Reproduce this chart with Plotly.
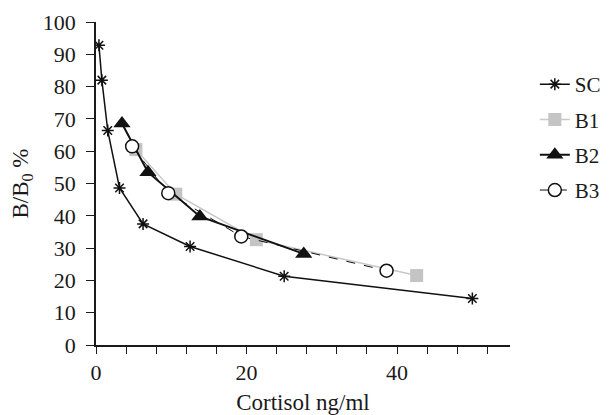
import plotly.graph_objects as go

sc_x = [0.39, 0.78, 1.56, 3.125, 6.25, 12.5, 25, 50]
sc_y = [92.8, 82, 66.4, 48.6, 37.5, 30.5, 21.3, 14.4]
b1_x = [5.3, 10.6, 21.3, 42.6]
b1_y = [60.5, 46.7, 32.6, 21.5]
b2_x = [3.45, 6.9, 13.8, 27.6]
b2_y = [68.6, 53.5, 39.8, 28.2]
b3_x = [4.8, 9.6, 19.3, 38.6]
b3_y = [61.5, 47.0, 33.6, 23.0]

x_tickvals = [0, 20, 40]
y_tickvals = list(range(0, 101, 10))

FONT = "Liberation Serif"

fig = go.Figure()
fig.add_trace(go.Scatter(x=sc_x, y=sc_y, name="SC", mode="lines+markers", legendgroup="sc",
                         line=dict(color="#111111", width=1.5),
                         marker=dict(symbol="asterisk-open", size=10, color="#111111",
                                     line=dict(color="#111111", width=1.5))))
fig.add_trace(go.Scatter(x=b1_x, y=b1_y, name="B1", mode="lines+markers", legendgroup="b1",
                         line=dict(color="#c8c8c8", width=1.5),
                         marker=dict(symbol="square", size=13, color="#c4c4c4")))
fig.add_trace(go.Scatter(x=b2_x, y=b2_y, name="B2", mode="lines+markers", legendgroup="b2",
                         line=dict(color="#111111", width=2),
                         marker=dict(symbol="triangle-up", size=15, color="#111111")))
fig.add_trace(go.Scatter(x=b3_x, y=b3_y, name="B3", mode="lines+markers", legendgroup="b3",
                         line=dict(color="#111111", width=1, dash="dash"),
                         marker=dict(symbol="circle", size=13, color="white",
                                     line=dict(color="#111111", width=1.5))))

fig.update_layout(
    width=602, height=407,
    margin=dict(l=88, r=100, t=14, b=70, autoexpand=False),
    paper_bgcolor="white", plot_bgcolor="white",
    font=dict(family=FONT, size=22, color="#1a1a1a"),
    showlegend=True,
    legend=dict(x=1.06, y=0.87, xanchor="left", yanchor="top",
                font=dict(family=FONT, size=21, color="#1a1a1a"),
                tracegroupgap=5, itemsizing="trace", bgcolor="rgba(0,0,0,0)"),
    xaxis=dict(range=[0, 55], tickvals=x_tickvals, automargin=False,
               ticks="outside", ticklen=7, tickwidth=1.2, tickcolor="#1a1a1a",
               minor=dict(dtick=4, tick0=0, ticks="outside", ticklen=7, tickwidth=1.2,
                          tickcolor="#1a1a1a", showgrid=False),
               showline=True, linecolor="#1a1a1a", linewidth=1.5,
               showgrid=False, zeroline=False,
               title=dict(text="Cortisol ng/ml", font=dict(family=FONT, size=23), standoff=16)),
    yaxis=dict(range=[0, 100], tickvals=y_tickvals, automargin=True,
               ticks="outside", ticklen=8, tickwidth=1.2, tickcolor="#1a1a1a",
               ticklabelstandoff=6,
               showline=True, linecolor="#1a1a1a", linewidth=1.5,
               showgrid=False, zeroline=False,
               title=dict(text="B/B<sub>0</sub> %", font=dict(family=FONT, size=23), standoff=10)),
)

fig.write_html("out.html")
